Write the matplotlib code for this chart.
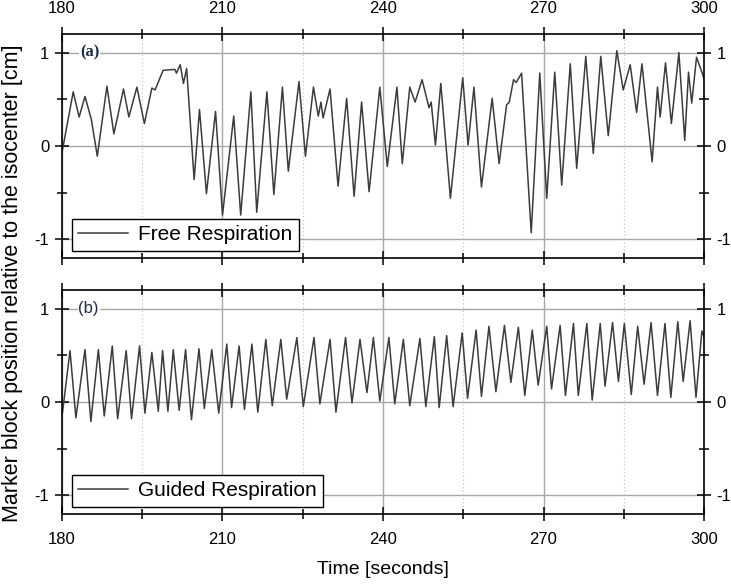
import matplotlib
matplotlib.use("Agg")
import matplotlib.pyplot as plt
from matplotlib.ticker import MultipleLocator

# peaks / troughs (time in s, position in cm)
free_t = [180.0, 182.1, 183.2, 184.3, 185.5, 186.6, 188.4, 189.7, 191.5, 192.5,
          194.0, 195.4, 196.8, 197.4, 198.9, 201.1, 201.4, 202.1, 202.7, 203.3,
          204.7, 205.7, 207.0, 208.7, 210.0, 212.1, 213.4, 215.3, 216.4, 218.3,
          219.6, 221.2, 222.3, 224.3, 225.5, 227.0, 227.9, 228.4, 228.8, 230.1,
          231.6, 233.2, 234.6, 236.0, 237.4, 239.4, 240.8, 242.6, 243.6, 245.0,
          246.0, 247.3, 248.6, 249.0, 249.8, 250.8, 252.6, 254.9, 255.9, 257.0,
          258.4, 260.4, 261.7, 263.1, 263.6, 264.4, 264.9, 265.9, 267.7, 269.3,
          270.6, 272.1, 273.4, 275.0, 276.2, 277.9, 279.3, 280.7, 282.1, 283.7,
          284.9, 286.2, 287.4, 288.4, 290.3, 291.3, 291.8, 292.8, 293.9, 295.3,
          296.4, 297.1, 297.7, 298.6, 299.6, 300.0]
free_y = [-0.07, 0.58, 0.31, 0.53, 0.28, -0.11, 0.64, 0.13, 0.61, 0.31,
          0.63, 0.24, 0.62, 0.60, 0.81, 0.82, 0.78, 0.87, 0.67, 0.83,
          -0.36, 0.39, -0.51, 0.37, -0.74, 0.32, -0.74, 0.58, -0.71, 0.58,
          -0.52, 0.63, -0.27, 0.69, -0.11, 0.63, 0.32, 0.47, 0.30, 0.61,
          -0.43, 0.51, -0.54, 0.47, -0.49, 0.63, -0.22, 0.63, -0.19, 0.63,
          0.47, 0.71, 0.41, 0.47, 0.01, 0.67, -0.56, 0.73, 0.01, 0.63,
          -0.44, 0.51, -0.19, 0.44, 0.47, 0.71, 0.68, 0.78, -0.93, 0.78,
          -0.56, 0.79, -0.42, 0.88, -0.24, 0.96, -0.08, 0.96, 0.11, 1.02,
          0.60, 0.87, 0.36, 0.88, -0.17, 0.63, 0.31, 0.89, 0.24, 1.00,
          0.06, 0.79, 0.46, 0.95, 0.79, 0.72]

guided_t = [180.1, 181.5, 182.6, 184.3, 185.4, 186.8, 187.9, 189.4, 190.4, 192.0,
            193.0, 194.5, 195.5, 196.8, 198.0, 198.8, 199.8, 200.8, 201.9, 203.1,
            204.2, 205.6, 206.6, 208.0, 209.3, 210.8, 211.7, 213.1, 214.1, 215.5,
            216.6, 218.1, 219.3, 220.9, 222.0, 223.9, 225.1, 227.1, 228.2, 230.1,
            231.2, 233.0, 234.2, 235.7, 237.0, 238.2, 239.4, 241.1, 242.2, 243.8,
            245.0, 246.9, 248.0, 249.6, 250.5, 251.9, 253.1, 254.8, 255.8, 257.4,
            258.4, 259.8, 261.1, 262.7, 263.9, 265.3, 266.5, 267.9, 269.0, 270.6,
            271.5, 273.1, 274.1, 275.6, 276.5, 278.1, 279.1, 280.6, 281.5, 282.9,
            284.0, 285.1, 286.4, 287.6, 288.8, 290.1, 291.3, 292.7, 293.8, 295.1,
            296.1, 297.4, 298.5, 299.6, 300.0]
guided_y = [-0.11, 0.55, -0.17, 0.56, -0.21, 0.56, -0.15, 0.60, -0.18, 0.55,
            -0.18, 0.60, -0.12, 0.53, -0.10, 0.55, -0.10, 0.56, -0.09, 0.56,
            -0.19, 0.57, -0.07, 0.56, -0.12, 0.62, -0.06, 0.60, -0.08, 0.62,
            -0.11, 0.67, -0.04, 0.67, 0.03, 0.69, -0.05, 0.69, -0.02, 0.67,
            -0.11, 0.69, -0.01, 0.67, 0.10, 0.69, 0.01, 0.69, -0.02, 0.67,
            -0.04, 0.68, -0.05, 0.70, -0.06, 0.71, -0.05, 0.74, 0.04, 0.77,
            0.06, 0.81, 0.11, 0.82, 0.21, 0.80, 0.07, 0.77, 0.18, 0.81,
            0.14, 0.82, 0.07, 0.84, 0.07, 0.84, 0.02, 0.84, 0.17, 0.85,
            0.22, 0.84, 0.08, 0.81, 0.19, 0.85, 0.07, 0.84, 0.05, 0.86,
            0.22, 0.87, 0.05, 0.76, 0.70]

x_ticks = [180, 210, 240, 270, 300]
y_ticks = [-1, 0, 1]

plt.rcParams["font.family"] = ["Liberation Sans", "DejaVu Sans"]
plt.rcParams["axes.unicode_minus"] = False

fig = plt.figure(figsize=(7.31, 5.85), dpi=100)
ax_a = fig.add_axes([0.0848, 0.559, 0.8783, 0.383])
ax_b = fig.add_axes([0.0848, 0.1214, 0.8783, 0.383])


def style_axis(ax, top_labels, bottom_labels):
    ax.set_xlim(180, 300)
    ax.set_ylim(-1.2, 1.2)
    ax.set_xticks(x_ticks)
    ax.set_yticks(y_ticks)
    ax.xaxis.set_minor_locator(MultipleLocator(15))
    ax.yaxis.set_minor_locator(MultipleLocator(0.5))
    ax.grid(which="major", color="#a8a8a8", lw=1.0)
    ax.grid(which="minor", axis="x", color="#c8c8c8", lw=0.9, ls=(0, (1, 2)))
    ax.set_axisbelow(True)
    for s in ax.spines.values():
        s.set_linewidth(1.2)
        s.set_zorder(5)
    ax.tick_params(which="both", direction="inout", top=True, right=True,
                   width=1.1, color="black")
    ax.tick_params(which="major", length=10)
    ax.tick_params(which="minor", length=6.5)
    ax.tick_params(axis="x", labeltop=top_labels, labelbottom=bottom_labels,
                   labelsize=12, pad=8)
    ax.tick_params(axis="y", labelleft=True, labelright=True, labelsize=12, pad=4)


style_axis(ax_a, True, False)
style_axis(ax_b, False, True)

ax_a.plot(free_t, free_y, color="#3c3c3c", lw=1.1, label="Free Respiration")
ax_b.plot(guided_t, guided_y, color="#3c3c3c", lw=1.1, label="Guided Respiration")

for ax in (ax_a, ax_b):
    leg = ax.legend(loc="lower left", bbox_to_anchor=(0.015, 0.033),
                    borderaxespad=0, fontsize=15, handlelength=2.4,
                    handletextpad=0.5, borderpad=0.3, fancybox=False,
                    framealpha=1, edgecolor="black")
    leg.get_frame().set_linewidth(1.0)
    leg.set_zorder(6)

ax_a.text(185.2, 1.0, "(a)", family=["Liberation Serif", "DejaVu Serif"],
          fontsize=12, fontweight="bold", color="#1f2a44", ha="center",
          va="center", bbox=dict(facecolor="white", edgecolor="none", pad=0.5))
ax_b.text(185.0, 1.0, "(b)", fontsize=12, color="#1f2a44", ha="center",
          va="center", bbox=dict(facecolor="white", edgecolor="none", pad=0.5))

ax_b.set_xlabel("Time [seconds]", fontsize=14, labelpad=10)
fig.text(0.017, 0.516, "Marker block position relative to the isocenter [cm]",
         rotation=90, ha="center", va="center", fontsize=15.5)

fig.savefig("out.png", dpi=100)
